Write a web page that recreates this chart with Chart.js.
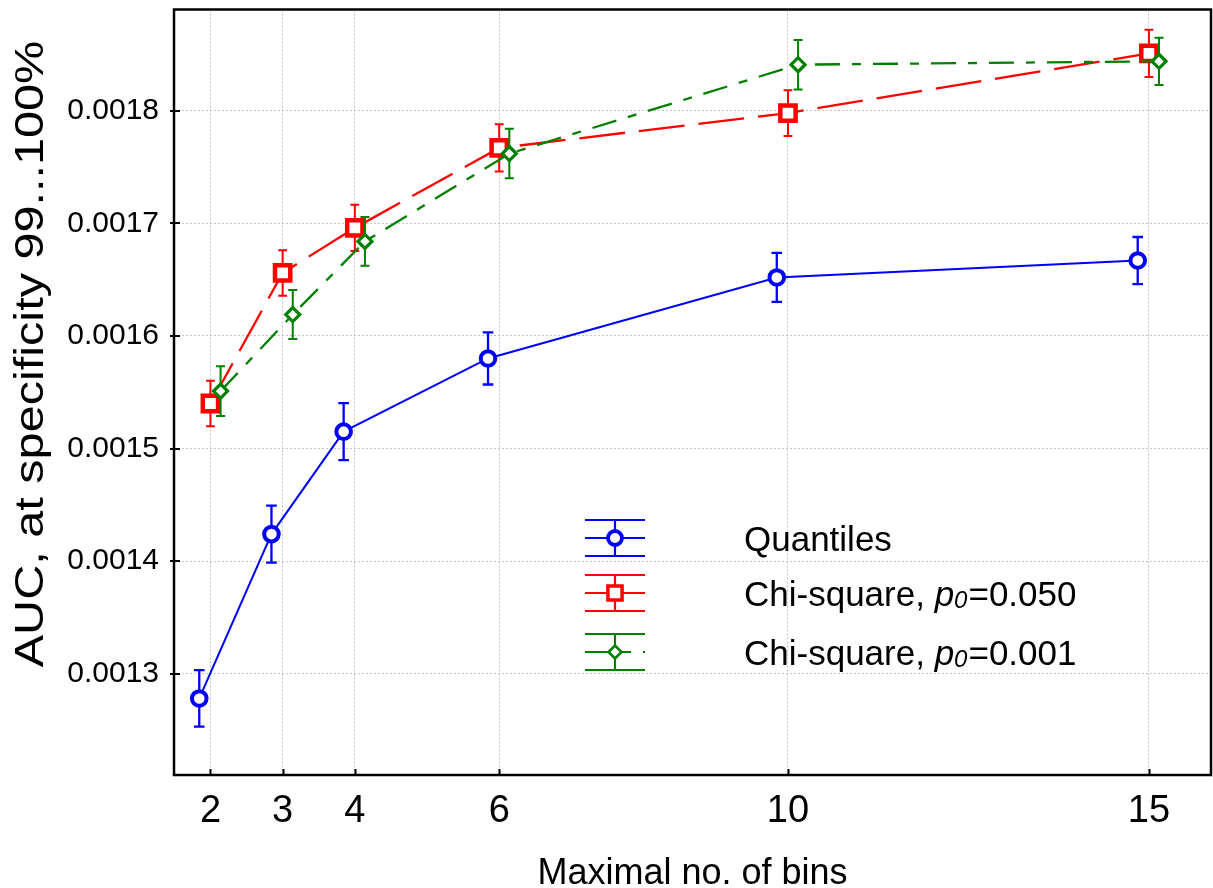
<!DOCTYPE html>
<html>
<head>
<meta charset="utf-8">
<title>AUC vs maximal number of bins</title>
<script src="https://cdn.jsdelivr.net/npm/chart.js@4/dist/chart.umd.min.js"></script>
<style>
  html, body { margin: 0; padding: 0; background: #fff; }
  #wrap { width: 1213px; height: 888px; }
</style>
</head>
<body>
<div id="wrap"><canvas id="c" width="1213" height="888"></canvas></div>
<script>
// ---- data ----
const bins = [2, 3, 4, 6, 10, 15];

const quantilesAUC = [0.001278, 0.001424, 0.001515, 0.001580, 0.001652, 0.001667];
const quantilesErr = [0.0000251, 0.0000253, 0.0000253, 0.0000231, 0.0000218, 0.0000209];

const chi050AUC = [0.001540, 0.001656, 0.001696, 0.001767, 0.001798, 0.001851];
const chi050Err = [0.0000203, 0.0000202, 0.0000205, 0.0000210, 0.0000203, 0.0000210];

const chi001AUC = [0.001551, 0.001619, 0.001684, 0.001762, 0.001841, 0.001844];
const chi001Err = [0.0000220, 0.0000218, 0.0000216, 0.0000220, 0.0000220, 0.0000210];

const seriesLabels = ['Quantiles', 'Chi-square, p0=0.050', 'Chi-square, p0=0.001'];

const xTickValues = [2, 3, 4, 6, 10, 15];
const yTickValues = [0.0013, 0.0014, 0.0015, 0.0016, 0.0017, 0.0018];

const xTitle = 'Maximal no. of bins';
const yTitle = 'AUC, at specificity 99...100%';

// ---- look ----
const FONT = "'Liberation Sans', Arial, sans-serif";
const BLUE = '#0000ff', RED = '#ff0000', GREEN = '#008000';

// points of a series, nudged sideways so the error bars don't overlap
function pointsOf(values, shift) {
  return bins.map((b, i) => ({ x: b + shift, y: values[i] }));
}

const datasets = [
  {
    label: seriesLabels[0],
    data: pointsOf(quantilesAUC, -0.155),
    errors: quantilesErr,
    borderColor: BLUE, backgroundColor: BLUE,
    borderWidth: 2, borderDash: [],
    pointStyle: 'circle', pointRadius: 7.3, pointBorderWidth: 4,
    pointBackgroundColor: '#fff', pointBorderColor: BLUE,
    errWidth: 2.3, errCap: 5.3,
    legendDashOffset: 0, legendRadius: 7, legendBorder: 3.8,
    order: 3
  },
  {
    label: seriesLabels[1],
    data: pointsOf(chi050AUC, 0),
    errors: chi050Err,
    borderColor: RED, backgroundColor: RED,
    borderWidth: 2.3, borderDash: [46, 14],
    pointStyle: 'rect', pointRadius: 10.8, pointBorderWidth: 4.5,
    pointBackgroundColor: '#fff', pointBorderColor: RED,
    errWidth: 2, errCap: 4.4,
    legendDashOffset: 23, legendRadius: 10, legendBorder: 3.5,
    order: 2
  },
  {
    label: seriesLabels[2],
    data: pointsOf(chi001AUC, 0.14),
    errors: chi001Err,
    borderColor: GREEN, backgroundColor: GREEN,
    borderWidth: 2.3, borderDash: [25, 12, 9, 12],
    pointStyle: 'rectRot', pointRadius: 7, pointBorderWidth: 3.2,
    pointBackgroundColor: '#fff', pointBorderColor: GREEN,
    errWidth: 2, errCap: 4.5,
    legendDashOffset: 0, legendRadius: 6.5, legendBorder: 2.6,
    order: 1
  }
];

// vertical error bars with caps, drawn just under each series
const errorBars = {
  id: 'errorBars',
  beforeDatasetDraw(chart, args) {
    const ds = chart.data.datasets[args.index];
    const ys = chart.scales.y;
    const ctx = chart.ctx;
    ctx.save();
    ctx.strokeStyle = ds.borderColor;
    ctx.lineWidth = ds.errWidth;
    ctx.setLineDash([]);
    args.meta.data.forEach((pt, i) => {
      const v = ds.data[i].y, e = ds.errors[i];
      const top = ys.getPixelForValue(v + e);
      const bot = ys.getPixelForValue(v - e);
      ctx.beginPath();
      ctx.moveTo(pt.x, top); ctx.lineTo(pt.x, bot);
      ctx.moveTo(pt.x - ds.errCap, top); ctx.lineTo(pt.x + ds.errCap, top);
      ctx.moveTo(pt.x - ds.errCap, bot); ctx.lineTo(pt.x + ds.errCap, bot);
      ctx.stroke();
    });
    ctx.restore();
  }
};

// frame around the plot and the short tick marks
const frame = {
  id: 'frame',
  afterDraw(chart) {
    const { ctx, chartArea: a } = chart;
    const xs = chart.scales.x, ys = chart.scales.y;
    ctx.save();
    ctx.setLineDash([]);
    ctx.strokeStyle = '#000';
    ctx.lineWidth = 2;
    ctx.beginPath();
    xs.ticks.forEach(t => {
      const px = Math.round(xs.getPixelForValue(t.value)) + 0.5;
      ctx.moveTo(px, a.bottom); ctx.lineTo(px, a.bottom - 6);
    });
    ys.ticks.forEach(t => {
      const py = Math.round(ys.getPixelForValue(t.value));
      ctx.moveTo(a.left - 4, py); ctx.lineTo(a.left + 6, py);
    });
    ctx.stroke();
    ctx.lineWidth = 2.5;
    ctx.strokeRect(a.left, a.top, a.right - a.left, a.bottom - a.top);
    ctx.restore();
  }
};

// rotated y axis title
const yAxisTitle = {
  id: 'yAxisTitle',
  afterDraw(chart) {
    const ctx = chart.ctx;
    ctx.save();
    ctx.translate(43, 354);
    ctx.rotate(-Math.PI / 2);
    ctx.scale(1.215, 1);
    ctx.font = '40px ' + FONT;
    ctx.fillStyle = '#000';
    ctx.textAlign = 'center';
    ctx.textBaseline = 'alphabetic';
    ctx.fillText(yTitle, 0, 0);
    ctx.restore();
  }
};

// legend with error-bar glyphs, label "p0" set as italic p with subscript 0
const legendRows = [538, 593, 652];
const errLegend = {
  id: 'errLegend',
  afterDraw(chart) {
    const ctx = chart.ctx;
    const x0 = 585, x1 = 645, xc = 615, half = 18, textX = 744;
    chart.data.datasets.forEach((ds, i) => {
      const y = legendRows[i];
      ctx.save();
      ctx.strokeStyle = ds.borderColor;
      ctx.lineWidth = 2.2;
      ctx.setLineDash([]);
      ctx.beginPath();
      ctx.moveTo(x0, y - half); ctx.lineTo(x1, y - half);
      ctx.moveTo(x0, y + half); ctx.lineTo(x1, y + half);
      ctx.moveTo(xc, y - half); ctx.lineTo(xc, y + half);
      ctx.stroke();
      ctx.setLineDash(ds.borderDash);
      ctx.lineDashOffset = ds.legendDashOffset;
      ctx.beginPath();
      ctx.moveTo(x0, y); ctx.lineTo(x1, y);
      ctx.stroke();
      ctx.setLineDash([]);
      ctx.fillStyle = '#fff';
      ctx.lineWidth = ds.legendBorder;
      Chart.helpers.drawPoint(ctx, {
        pointStyle: ds.pointStyle, radius: ds.legendRadius,
        rotation: 0, borderWidth: ds.legendBorder
      }, xc, y);
      ctx.restore();

      // label
      ctx.save();
      ctx.fillStyle = '#000';
      ctx.textBaseline = 'alphabetic';
      ctx.textAlign = 'left';
      const base = y + 13;
      const parts = ds.label.split('p0');
      let x = textX;
      ctx.font = '35px ' + FONT;
      ctx.fillText(parts[0], x, base);
      x += ctx.measureText(parts[0]).width;
      if (parts.length > 1) {
        ctx.font = 'italic 35px ' + FONT;
        ctx.fillText('p', x, base);
        x += ctx.measureText('p').width;
        ctx.font = 'italic 24px ' + FONT;
        ctx.fillText('0', x, base + 2);
        x += ctx.measureText('0').width + 1;
        ctx.font = '35px ' + FONT;
        ctx.fillText(parts[1], x, base);
      }
      ctx.restore();
    });
  }
};

// keep the plot box at a fixed place: no extra room for edge labels
function fixBox(size) {
  return s => {
    if (size.height) s.height = size.height;
    if (size.width) s.width = size.width;
    s.paddingTop = 0; s.paddingBottom = 0;
    s.paddingLeft = 0; s.paddingRight = 0;
  };
}

new Chart(document.getElementById('c'), {
  type: 'line',
  data: { datasets },
  options: {
    responsive: false,
    animation: false,
    devicePixelRatio: 1,
    layout: { autoPadding: false, padding: { left: 0, right: 2, top: 9.5, bottom: 0 } },
    elements: { line: { tension: 0 } },
    plugins: { legend: { display: false }, tooltip: { enabled: false } },
    scales: {
      x: {
        type: 'linear',
        min: 1.495, max: 15.86,
        afterBuildTicks: s => { s.ticks = xTickValues.map(v => ({ value: v })); },
        afterFit: fixBox({ height: 113 }),
        grid: { color: '#c4c4c4', lineWidth: 1, drawTicks: false },
        border: { display: false, dash: [2, 2] },
        ticks: {
          font: { family: FONT, size: 38 }, color: '#000',
          padding: 14, maxRotation: 0, autoSkip: false,
          callback: v => String(v)
        },
        title: {
          display: true, text: xTitle, color: '#000',
          font: { family: FONT, size: 36, lineHeight: 0.75 },
          padding: { top: 0, bottom: 0 }
        }
      },
      y: {
        type: 'linear',
        min: 0.00121, max: 0.00189,
        afterBuildTicks: s => { s.ticks = yTickValues.map(v => ({ value: v })); },
        afterFit: fixBox({ width: 174 }),
        grid: { color: '#c4c4c4', lineWidth: 1, drawTicks: false },
        border: { display: false, dash: [2, 2] },
        ticks: {
          font: { family: FONT, size: 30 }, color: '#000',
          padding: 15,
          callback: v => v.toFixed(4)
        }
      }
    }
  },
  plugins: [errorBars, frame, yAxisTitle, errLegend]
});
</script>
</body>
</html>
